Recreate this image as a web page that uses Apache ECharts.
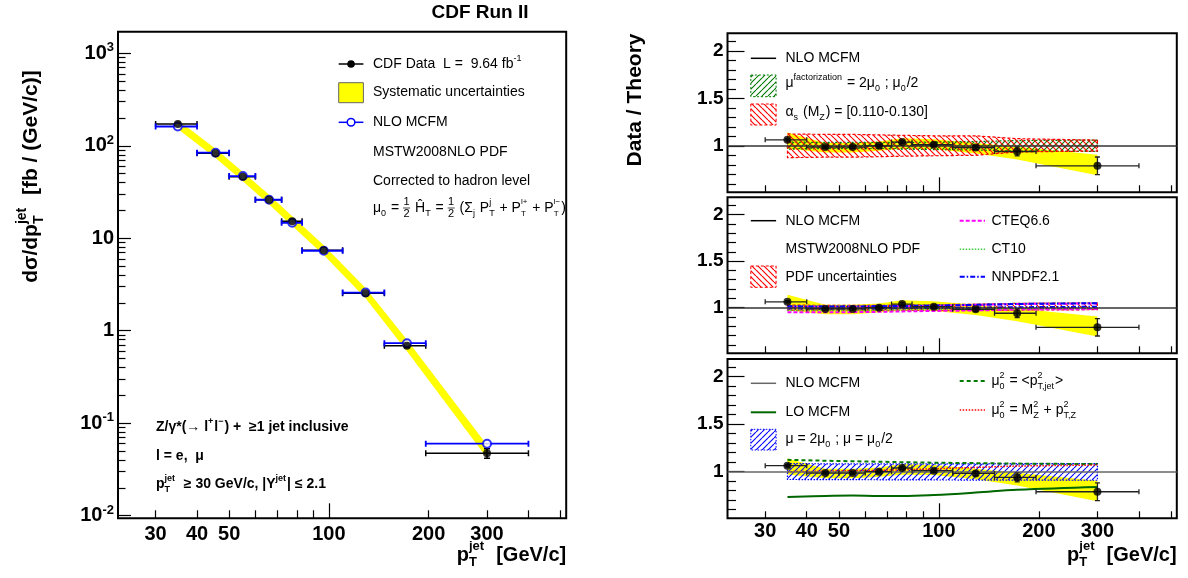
<!DOCTYPE html>
<html><head><meta charset="utf-8">
<script src="https://cdn.jsdelivr.net/npm/echarts@6/dist/echarts.min.js"></script>
<style>html,body{margin:0;padding:0;background:#fff;}#c{width:1188px;height:578px;}</style>
</head><body><div id="c"></div>
<script>
// ---------------- data ----------------
const ptCenter = [35, 45.5, 55, 66, 77.5, 96.5, 129, 172, 300];
const ptLow    = [30, 40, 50, 60, 72, 83, 110, 147, 196];
const ptHigh   = [40, 50, 60, 72, 83, 110, 147, 196, 400];

const dataXsec    = [172, 83, 46.4, 26.1, 15.3, 7.41, 2.54, 0.69, 0.0474];
const dataXsecErr = [2.0, 1.0, 0.6, 0.4, 0.26, 0.13, 0.055, 0.033, 0.0056];
const nloXsec     = [161.8, 84.2, 47.1, 26.1, 14.7, 7.33, 2.59, 0.734, 0.0601];
const sysXsecHi   = [190, 93, 52, 29.5, 17.3, 8.4, 2.9, 0.80, 0.058];
const sysXsecLo   = [152, 74, 41.5, 23.2, 13.6, 6.6, 2.25, 0.60, 0.042];

const ratio      = [1.063, 0.986, 0.986, 1.0, 1.039, 1.011, 0.982, 0.94, 0.789];
const ratioErr   = [0.012, 0.012, 0.013, 0.015, 0.017, 0.017, 0.022, 0.047, 0.093];
const sysRatioHi = [1.14, 1.03, 1.03, 1.045, 1.08, 1.07, 1.03, 0.99, 0.905];
const sysRatioLo = [0.97, 0.93, 0.93, 0.947, 0.968, 0.965, 0.92, 0.855, 0.69];

// panel 1
const facScaleHi = [1.04, 1.035, 1.035, 1.035, 1.04, 1.04, 1.045, 1.055, 1.06];
const facScaleLo = [0.965, 0.97, 0.97, 0.97, 0.965, 0.96, 0.955, 0.945, 0.94];
const alphasHi   = [1.125, 1.12, 1.12, 1.115, 1.11, 1.105, 1.105, 1.075, 1.06];
const alphasLo   = [0.875, 0.88, 0.88, 0.885, 0.89, 0.895, 0.9, 0.935, 0.945];
// panel 2
const mstwPdfHi = [1.028, 1.025, 1.025, 1.025, 1.028, 1.032, 1.038, 1.046, 1.052];
const mstwPdfLo = [0.972, 0.972, 0.972, 0.972, 0.972, 0.972, 0.972, 0.975, 0.978];
const cteqHi  = [1.01, 1.01, 1.01, 1.012, 1.015, 1.02, 1.03, 1.04, 1.045];
const cteqLo  = [0.95, 0.95, 0.952, 0.955, 0.96, 0.965, 0.97, 0.98, 0.985];
const ct10Hi  = [1.02, 1.02, 1.02, 1.022, 1.025, 1.03, 1.035, 1.045, 1.05];
const ct10Lo  = [0.97, 0.97, 0.97, 0.972, 0.975, 0.978, 0.98, 0.985, 0.99];
const nnpdfHi = [1.015, 1.012, 1.012, 1.015, 1.018, 1.022, 1.03, 1.04, 1.048];
const nnpdfLo = [0.99, 0.99, 0.99, 0.992, 0.995, 0.997, 1.0, 1.005, 1.01];
// panel 3
const muScaleHi = [1.085, 1.083, 1.082, 1.082, 1.082, 1.082, 1.083, 1.084, 1.085];
const muScaleLo = [0.918, 0.917, 0.916, 0.915, 0.914, 0.913, 0.912, 0.911, 0.91];
const ptJetScale = [1.125, 1.115, 1.11, 1.105, 1.1, 1.095, 1.09, 1.085, 1.08];
const mzPtzScale = [1.0, 1.005, 1.01, 1.015, 1.02, 1.03, 1.045, 1.06, 1.07];
const loMcfm     = [0.735, 0.745, 0.75, 0.745, 0.745, 0.755, 0.78, 0.81, 0.84];

// ticks
const xMin = 23.1, xMax = 520;
const xTickMinor = [30, 40, 50, 60, 70, 80, 90, 200, 300, 400, 500];
const xTickMajor = [100];
const xTickLabels = [30, 40, 50, 100, 200, 300];
const yLogMin = 0.00937, yLogMax = 1714;
const yLogMajor = [0.01, 0.1, 1, 10, 100, 1000];
const yLogMinor = [0.02,0.03,0.04,0.05,0.06,0.07,0.08,0.09,0.2,0.3,0.4,0.5,0.6,0.7,0.8,0.9,
                   2,3,4,5,6,7,8,9,20,30,40,50,60,70,80,90,200,300,400,500,600,700,800,900];
const yLogLabelText = {'-2':'{b|10}{s|-2}','-1':'{b|10}{s|-1}','0':'{b|1}','1':'{b|10}','2':'{b|10}{s|2}','3':'{b|10}{s|3}'};
const yRatMin = 0.51, yRatMax = 2.185;
const yRatMajor = [1, 1.5, 2];
const yRatMinor = [0.6,0.7,0.8,0.9,1.1,1.2,1.3,1.4,1.6,1.7,1.8,1.9,2.1];

// ---------------- helpers ----------------
const FF = "'Liberation Sans', Arial, sans-serif";
const mctx = document.createElement('canvas').getContext('2d');
function fontStr(s, b){ return (b ? 'bold ' : '') + s + 'px ' + FF; }
function tw(t, s, b){ mctx.font = fontStr(s, b); return mctx.measureText(t).width; }
function T(x, y, t, s, b, color, align){
  return {type:'text', x:x, y:y, silent:true, z:100,
    style:{text:t, font:fontStr(s,b), fill:color||'#000', align:align||'left', verticalAlign:'middle',
           textAlign:align||'left', textVerticalAlign:'middle'}};
}
function R(x0, mid, parts, size, bold, color){
  const out = []; let x = x0; const ss = Math.round(size*0.66);
  for (const p of parts){
    if (typeof p === 'string'){ out.push(T(x, mid, p, size, bold, color)); x += tw(p, size, bold); }
    else if (p.frac){
      const fs = Math.round(size*0.8);
      const w = Math.max(tw(p.frac[0], fs, bold), tw(p.frac[1], fs, bold)) + 1;
      out.push(T(x + w/2, mid - fs*0.52, p.frac[0], fs, bold, color, 'center'));
      out.push(T(x + w/2, mid + fs*0.58, p.frac[1], fs, bold, color, 'center'));
      out.push({type:'line', silent:true, z:100, shape:{x1:x, y1:mid, x2:x+w, y2:mid}, style:{stroke:color||'#000', lineWidth:0.7}});
      x += w + 1;
    } else {
      const s = p.s || ss; let w = 0;
      if (p.sup != null){ out.push(T(x, mid - size*0.42, p.sup, s, bold, color)); w = Math.max(w, tw(p.sup, s, bold)); }
      if (p.sub != null){ out.push(T(x, mid + size*0.38, p.sub, s, bold, color)); w = Math.max(w, tw(p.sub, s, bold)); }
      x += w + 1;
    }
  }
  return {els: out, w: x - x0};
}
function RRight(xr, mid, parts, size, bold){ const w = R(0, 0, parts, size, bold).w; return R(xr - w, mid, parts, size, bold).els; }
function RRot(cx, cy, parts, size, bold){
  const w = R(0, 0, parts, size, bold).w;
  return {type:'group', x:cx, y:cy, rotation:Math.PI/2, silent:true, z:100, children: R(-w/2, 0, parts, size, bold).els};
}
function hatch(color, dir, step, lw){
  const c = document.createElement('canvas'); c.width = step; c.height = step;
  const g = c.getContext('2d'); g.strokeStyle = color; g.lineWidth = lw || 1.1;
  g.beginPath();
  for (let k = -1; k <= 1; k++){
    if (dir === 'back'){ g.moveTo(k*step, 0); g.lineTo(k*step + step, step); }
    else { g.moveTo(k*step, step); g.lineTo(k*step + step, 0); }
  }
  g.stroke();
  return {image: c, repeat: 'repeat'};
}
const hatchRed   = hatch('#ff0000', 'back', 6, 1.2);
const hatchGreen = hatch('#007a00', 'fwd', 6, 1.1);
const hatchBlue  = hatch('#0000ff', 'fwd', 6, 1.1);

// ---------------- axes ----------------
function xAx(grid, ticks, len, labels, lblMargin){
  return {type:'log', logBase:10, gridIndex:grid, min:xMin, max:xMax, position:'bottom',
    axisLine:{show:false, onZero:false}, splitLine:{show:false},
    axisTick:{show:true, inside:true, length:len, customValues:ticks, lineStyle:{color:'#000', width:1.2}},
    axisLabel: labels ? {show:true, customValues:labels, margin:lblMargin, color:'#000', fontSize:20, fontWeight:'bold', fontFamily:FF} : {show:false}};
}
function yLogAx(ticks, len, labels){
  return {type:'log', logBase:10, gridIndex:0, min:yLogMin, max:yLogMax, position:'left',
    axisLine:{show:false, onZero:false}, splitLine:{show:false},
    axisTick:{show:true, inside:true, length:len, customValues:ticks, lineStyle:{color:'#000', width:1.2}},
    axisLabel: labels ? {show:true, customValues:labels, margin:4,
      formatter: v => yLogLabelText[String(Math.round(Math.log10(v)))],
      rich:{ b:{fontSize:20, fontWeight:'bold', fontFamily:FF, color:'#000', lineHeight:24},
             s:{fontSize:13, fontWeight:'bold', fontFamily:FF, color:'#000', lineHeight:13, verticalAlign:'top'} } } : {show:false}};
}
function yRatAx(grid, ticks, len, labels){
  return {type:'value', gridIndex:grid, min:yRatMin, max:yRatMax, position:'left',
    axisLine:{show:false, onZero:false}, splitLine:{show:false},
    axisTick:{show:true, inside:true, length:len, customValues:ticks, lineStyle:{color:'#000', width:1.2}},
    axisLabel: labels ? {show:true, customValues:labels, margin:4, color:'#000', fontSize:19, fontWeight:'bold', fontFamily:FF} : {show:false}};
}

// ---------------- series builders ----------------
function band(xi, yi, lo, hi, fill, stroke, dash, z){
  return {type:'custom', xAxisIndex:xi, yAxisIndex:yi, z:z, silent:true, clip:true,
    data:[[ptCenter[0], lo[0]]],
    renderItem:(params, api) => {
      const pts = [];
      for (let i = 0; i < ptCenter.length; i++) pts.push(api.coord([ptCenter[i], hi[i]]));
      for (let i = ptCenter.length - 1; i >= 0; i--) pts.push(api.coord([ptCenter[i], lo[i]]));
      return {type:'polygon', shape:{points:pts},
        style:{fill:fill, stroke:stroke || 'none', lineWidth:stroke ? 1.2 : 0, lineDash: dash || null}};
    }};
}
function errBars(xi, yi, yv, ye, color, lw, cap, z, extra){
  const rows = ptCenter.map((x, i) => [x, yv[i], ptLow[i], ptHigh[i], yv[i] - (ye ? ye[i] : 0), yv[i] + (ye ? ye[i] : 0)]);
  return Object.assign({type:'custom', xAxisIndex:xi, yAxisIndex:yi, z:z, silent:true, clip:true,
    encode:{x:0, y:1}, data:rows,
    renderItem:(params, api) => {
      const x = api.value(0), y = api.value(1);
      const l = api.coord([api.value(2), y]), r = api.coord([api.value(3), y]);
      const b = api.coord([x, api.value(4)]), t = api.coord([x, api.value(5)]);
      const st = {stroke:color, lineWidth:lw};
      const ch = [
        {type:'line', shape:{x1:l[0], y1:l[1], x2:r[0], y2:r[1]}, style:st},
        {type:'line', shape:{x1:l[0], y1:l[1]-cap, x2:l[0], y2:l[1]+cap}, style:st},
        {type:'line', shape:{x1:r[0], y1:r[1]-cap, x2:r[0], y2:r[1]+cap}, style:st}];
      if (Math.abs(b[1] - t[1]) > 1){
        ch.push({type:'line', shape:{x1:b[0], y1:b[1], x2:t[0], y2:t[1]}, style:st});
        ch.push({type:'line', shape:{x1:b[0]-cap, y1:b[1], x2:b[0]+cap, y2:b[1]}, style:st});
        ch.push({type:'line', shape:{x1:t[0]-cap, y1:t[1], x2:t[0]+cap, y2:t[1]}, style:st});
      }
      return {type:'group', children:ch};
    }}, extra || {});
}
function pts(xi, yi, yv, symbol, size, color, bw, z){
  return {type:'scatter', xAxisIndex:xi, yAxisIndex:yi, z:z, silent:true,
    data: ptCenter.map((x, i) => [x, yv[i]]), symbol:symbol, symbolSize:size,
    itemStyle:{color:color, borderColor:color, borderWidth:bw}};
}
function ln(xi, yi, yv, color, width, dash, z, smooth){
  return {type:'line', xAxisIndex:xi, yAxisIndex:yi, z:z, silent:true, showSymbol:false, symbol:'none', smooth:smooth||false,
    data: ptCenter.map((x, i) => [x, yv[i]]), lineStyle:{color:color, width:width, type:dash || 'solid'}};
}
const refLine = {silent:true, symbol:['none','none'], label:{show:false}, animation:false,
  lineStyle:{color:'#444', width:1.5, type:'solid'}, data:[{yAxis:1}]};

const series = [];
// left panel
series.push(band(0, 0, sysXsecLo, sysXsecHi, '#ffff00', null, null, 2));
series.push(errBars(0, 0, dataXsec, dataXsecErr, '#000', 1.5, 3, 3));
series.push(errBars(0, 0, nloXsec, null, '#0000ff', 1.8, 3, 4));
series.push(pts(0, 0, nloXsec, 'emptyCircle', 8, '#0000ff', 1.6, 5));
series.push(pts(0, 0, dataXsec, 'circle', 8, '#000', 0, 6));
// right panels
const rpanels = [1, 2, 3];
for (const p of rpanels){
  const xi = 2*p, yi = 2*p;
  series.push(band(xi, yi, sysRatioLo, sysRatioHi, '#ffff00', null, null, 2));
  if (p === 1){
    series.push(band(xi, yi, facScaleLo, facScaleHi, hatchGreen, '#007a00', [2,2], 3));
    series.push(band(xi, yi, alphasLo, alphasHi, hatchRed, '#ff0000', [3,2], 3));
  } else if (p === 2){
    series.push(band(xi, yi, mstwPdfLo, mstwPdfHi, hatchRed, '#ff0000', [3,2], 3));
    series.push(ln(xi, yi, ct10Hi, '#44cc44', 1.5, [1.5,1.5], 4));
    series.push(ln(xi, yi, ct10Lo, '#44cc44', 1.5, [1.5,1.5], 4));
    series.push(ln(xi, yi, cteqHi, '#ff00ff', 2, [4,2], 4));
    series.push(ln(xi, yi, cteqLo, '#ff00ff', 2, [4,2], 4));
    series.push(ln(xi, yi, nnpdfHi, '#0000ff', 2, [5,2,1.5,2], 4));
    series.push(ln(xi, yi, nnpdfLo, '#0000ff', 2, [5,2,1.5,2], 4));
  } else {
    series.push(band(xi, yi, muScaleLo, muScaleHi, hatchBlue, '#0000ff', [1.5,1.5], 3));
    series.push(ln(xi, yi, ptJetScale, '#007a00', 2, [4,3], 4));
    series.push(ln(xi, yi, mzPtzScale, '#ff0000', 1.5, [1.5,1.5], 4));
    series.push(ln(xi, yi, loMcfm, '#006600', 2, 'solid', 4, 0.4));
  }
  series.push(errBars(xi, yi, ratio, ratioErr, '#222', 1.3, 2.5, 9, {markLine: Object.assign({}, refLine, {lineStyle:{color: p===3 ? '#666' : '#333', width:1.5, type:'solid'}})}));
  series.push(pts(xi, yi, ratio, 'circle', 8, '#000', 0, 10));
}

// ---------------- text & legends ----------------
const G = [];
function add(a){ for (const e of a) G.push(e); }
function gline(x1, y1, x2, y2, color, w, dash){ return {type:'line', silent:true, z:100, shape:{x1,y1,x2,y2}, style:{stroke:color, lineWidth:w, lineDash:dash||null}}; }
function grect(x, y, w, h, fill, stroke, dash){ return {type:'rect', silent:true, z:100, shape:{x,y,width:w,height:h}, style:{fill:fill, stroke:stroke, lineWidth:1, lineDash:dash||null}}; }

G.push(T(480, 13, 'CDF Run II', 19, true, '#000', 'center'));
G.push(RRot(31, 176.5, ['dσ/dp', {sup:'jet', sub:'T', s:14}, '  [fb / (GeV/c)]'], 21, true));
add(RRight(566.2, 555, ['p', {sup:'jet', sub:'T', s:13}, '  [GeV/c]'], 20, true));
G.push(RRot(635.3, 100, ['Data / Theory'], 21, true));
add(RRight(1176.6, 555, ['p', {sup:'jet', sub:'T', s:13}, '  [GeV/c]'], 20, true));

// left legend
const lx1 = 338.7, lx2 = 363.4, ltx = 373;
G.push(gline(lx1, 64, lx2, 64, '#000', 1.5));
G.push({type:'circle', silent:true, z:101, shape:{cx:(lx1+lx2)/2, cy:64, r:3.8}, style:{fill:'#000'}});
add(R(ltx, 64, ['CDF Data  L =  9.64 fb', {sup:'-1', s:9}], 14, false).els);
G.push(grect(lx1, 82.7, lx2-lx1, 20, '#ffff00', '#666'));
add(R(ltx, 92.3, ['Systematic uncertainties'], 14, false).els);
G.push(gline(lx1, 122.3, lx2, 122.3, '#0000ff', 1.5));
G.push({type:'circle', silent:true, z:101, shape:{cx:(lx1+lx2)/2, cy:122.3, r:3.8}, style:{fill:'#fff', stroke:'#0000ff', lineWidth:1.5}});
add(R(ltx, 122.3, ['NLO MCFM'], 14, false).els);
add(R(ltx, 152.3, ['MSTW2008NLO PDF'], 14, false).els);
add(R(ltx, 181, ['Corrected to hadron level'], 14, false).els);
add(R(ltx, 208, ['μ', {sub:'0', s:9}, ' = ', {frac:['1','2']}, ' Ĥ', {sub:'T', s:9}, ' = ', {frac:['1','2']}, ' (Σ', {sub:'j', s:9}, ' P', {sup:'j', sub:'T', s:9},
  ' + P', {sup:'l+', sub:'T', s:8}, ' + P', {sup:'l−', sub:'T', s:8}, ')'], 14, false).els);

// left bottom texts
add(R(156, 427.3, ['Z/γ*(→ l', {sup:'+', s:9}, 'l', {sup:'−', s:9}, ') +  ≥1 jet inclusive'], 14, true).els);
add(R(156, 455.7, ['l = e,  μ'], 14, true).els);
add(R(156, 484, ['p', {sup:'jet', sub:'T', s:9}, '  ≥ 30 GeV/c, |Y', {sup:'jet', s:9}, '| ≤ 2.1'], 14, true).els);

// right legends
const rx1 = 750.8, rx2 = 776.1, rtx = 785.5, cx1 = 959.7, cx2 = 985, ctx2 = 991.5;
// panel 1
G.push(gline(rx1, 58.3, rx2, 58.3, '#000', 1.5));
add(R(rtx, 58.3, ['NLO MCFM'], 14, false).els);
G.push(grect(rx1, 75, rx2-rx1, 21.7, hatchGreen, '#007a00', [2,2]));
add(R(rtx, 83.3, ['μ', {sup:'factorization', s:9}, ' = 2μ', {sub:'0', s:9}, ' ; μ', {sub:'0', s:9}, '/2'], 14, false).els);
G.push(grect(rx1, 104, rx2-rx1, 21, hatchRed, '#ff0000', [3,2]));
add(R(rtx, 111.7, ['α', {sub:'s', s:9}, ' (M', {sub:'Z', s:9}, ') = [0.110-0.130]'], 14, false).els);
// panel 2
G.push(gline(rx1, 220.7, rx2, 220.7, '#000', 1.5));
add(R(rtx, 220.7, ['NLO MCFM'], 14, false).els);
add(R(rtx, 249.3, ['MSTW2008NLO PDF'], 14, false).els);
G.push(grect(rx1, 266, rx2-rx1, 21.3, hatchRed, '#ff0000', [3,2]));
add(R(rtx, 276.7, ['PDF uncertainties'], 14, false).els);
G.push(gline(cx1, 220.7, cx2, 220.7, '#ff00ff', 2, [4,2]));
add(R(ctx2, 220.7, ['CTEQ6.6'], 14, false).els);
G.push(gline(cx1, 249.3, cx2, 249.3, '#44cc44', 1.5, [1.5,1.5]));
add(R(ctx2, 249.3, ['CT10'], 14, false).els);
G.push(gline(cx1, 276.7, cx2, 276.7, '#0000ff', 2, [5,2,1.5,2]));
add(R(ctx2, 276.7, ['NNPDF2.1'], 14, false).els);
// panel 3
G.push(gline(rx1, 383.3, rx2, 383.3, '#666', 1.5));
add(R(rtx, 383.3, ['NLO MCFM'], 14, false).els);
G.push(gline(rx1, 412.3, rx2, 412.3, '#006600', 2));
add(R(rtx, 412.3, ['LO MCFM'], 14, false).els);
G.push(grect(rx1, 429.3, rx2-rx1, 20.7, hatchBlue, '#0000ff', [1.5,1.5]));
add(R(rtx, 439.3, ['μ = 2μ', {sub:'0', s:9}, ' ; μ = μ', {sub:'0', s:9}, '/2'], 14, false).els);
G.push(gline(cx1, 381, cx2, 381, '#007a00', 2, [4,3]));
add(R(ctx2, 381, ['μ', {sup:'2', sub:'0', s:9}, ' = <p', {sup:'2', sub:'T,jet', s:9}, '>'], 14, false).els);
G.push(gline(cx1, 410, cx2, 410, '#ff0000', 1.5, [1.5,1.5]));
add(R(ctx2, 410, ['μ', {sup:'2', sub:'0', s:9}, ' = M', {sup:'2', sub:'Z', s:9}, ' + p', {sup:'2', sub:'T,Z', s:9}], 14, false).els);

// ---------------- option ----------------
const gridBase = {show:true, borderColor:'#000', borderWidth:2, backgroundColor:'transparent', containLabel:false};
const option = {
  animation:false,
  backgroundColor:'#fff',
  grid:[
    Object.assign({left:118, top:31.7, width:448.2, height:486.6}, gridBase),
    Object.assign({left:727.5, top:33.3, width:449.3, height:159}, gridBase),
    Object.assign({left:727.5, top:197.3, width:449.3, height:156}, gridBase),
    Object.assign({left:727.5, top:359, width:449.3, height:159.3}, gridBase)
  ],
  xAxis:[
    xAx(0, xTickMinor, 8, xTickLabels, 6), xAx(0, xTickMajor, 15, null),
    xAx(1, xTickMinor, 7, null), xAx(1, xTickMajor, 15, null),
    xAx(2, xTickMinor, 7, null), xAx(2, xTickMajor, 15, null),
    xAx(3, xTickMinor, 7, xTickLabels, 3), xAx(3, xTickMajor, 15, null)
  ],
  yAxis:[
    yLogAx(yLogMinor, 7.5, null), yLogAx(yLogMajor, 13, yLogMajor),
    yRatAx(1, yRatMinor, 8.5, null), yRatAx(1, yRatMajor, 17, yRatMajor),
    yRatAx(2, yRatMinor, 8.5, null), yRatAx(2, yRatMajor, 17, yRatMajor),
    yRatAx(3, yRatMinor, 8.5, null), yRatAx(3, yRatMajor, 17, yRatMajor)
  ],
  series: series,
  graphic: {elements: G}
};
const chart = echarts.init(document.getElementById('c'), null, {renderer:'canvas'});
chart.setOption(option);
</script></body></html>
